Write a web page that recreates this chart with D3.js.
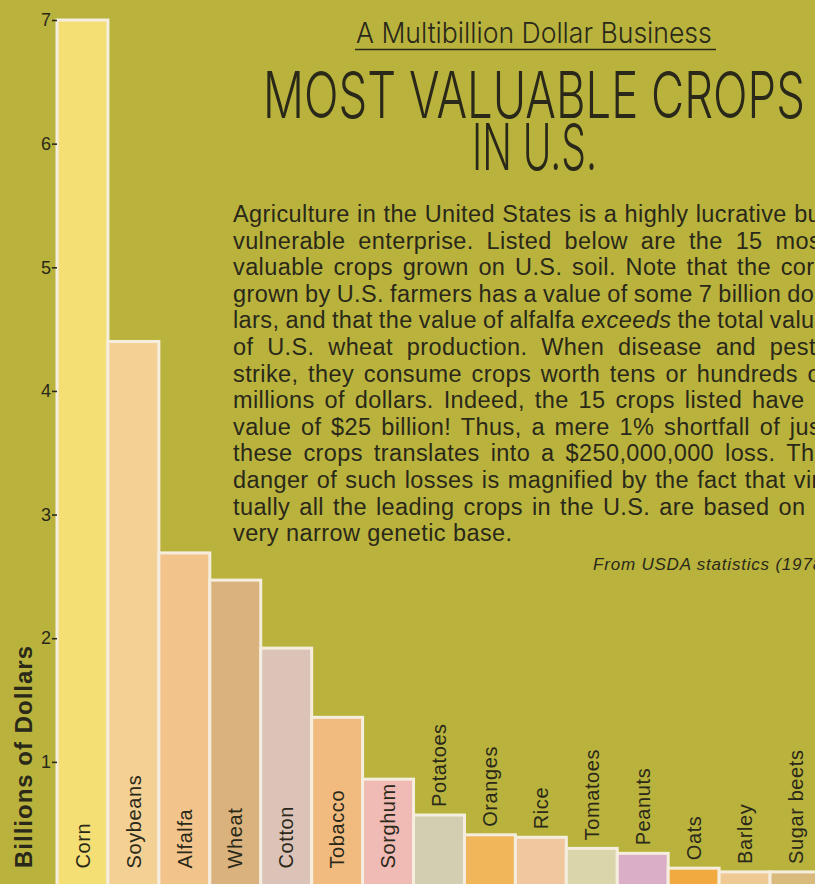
<!DOCTYPE html>
<html>
<head>
<meta charset="utf-8">
<script src="https://cdn.jsdelivr.net/npm/d3@7"></script>
<style>
  html, body { margin: 0; padding: 0; background: #b9b33d; }
  svg { display: block; }
</style>
</head>
<body>
<svg id="chart"></svg>
<script>
// data (billions of dollars)
const crops = ["Corn", "Soybeans", "Alfalfa", "Wheat", "Cotton", "Tobacco", "Sorghum",
  "Potatoes", "Oranges", "Rice", "Tomatoes", "Peanuts", "Oats", "Barley", "Sugar beets"];
const values = [7.0, 4.4, 2.69, 2.47, 1.92, 1.36, 0.86, 0.57, 0.41, 0.39, 0.3, 0.26, 0.14, 0.11, 0.11];
const yTicks = [1, 2, 3, 4, 5, 6, 7];
const palette = ["#f4df74", "#f3d093", "#f2c48b", "#d9b27d", "#dcc3b8", "#f1bb80", "#f1bbb5",
  "#d3cdb2", "#f1b55a", "#f1c7a0", "#dad5aa", "#dbaec8", "#f0aa40", "#efc994", "#d9b97c"];

const subtitle = "A Multibillion Dollar Business";
const titleLines = ["MOST VALUABLE CROPS", "IN U.S."];
const bodyLines = [
  "Agriculture in the United States is a highly lucrative but",
  "vulnerable enterprise. Listed below are the 15 most",
  "valuable crops grown on U.S. soil. Note that the corn",
  "grown by U.S. farmers has a value of some 7 billion dol-",
  "lars, and that the value of alfalfa _exceeds_ the total value",
  "of U.S. wheat production. When disease and pests",
  "strike, they consume crops worth tens or hundreds of",
  "millions of dollars. Indeed, the 15 crops listed have a",
  "value of $25 billion! Thus, a mere 1% shortfall of just",
  "these crops translates into a $250,000,000 loss. The",
  "danger of such losses is magnified by the fact that vir-",
  "tually all the leading crops in the U.S. are based on a",
  "very narrow genetic base."
];
const source = "From USDA statistics (1978)";
const yLabel = "Billions of Dollars";

const width = 815, height = 884;
const ink = "#2a2819";
const sans = "'Liberation Sans', Arial, sans-serif";
const headFont = "Inter, 'Noto Sans', 'DejaVu Sans', sans-serif";

const svg = d3.select("#chart").attr("width", width).attr("height", height);

svg.append("rect").attr("width", width).attr("height", height).attr("fill", "#b9b33d");

// Scales
const x = d3.scaleBand().domain(crops).range([57, 821]).padding(0);
const y = d3.scaleLinear().domain([0, 7]).range([885.5, 20]);
const color = d3.scaleOrdinal(crops, palette);

// squeeze a headline text horizontally into a given width
function headline(str, x0, y0, size, targetW) {
  const t = svg.append("text")
    .attr("font-family", headFont).attr("font-weight", 300)
    .attr("font-size", size).attr("fill", ink)
    .text(str);
  const k = targetW / t.node().getComputedTextLength();
  t.attr("transform", "translate(" + x0 + "," + y0 + ") scale(" + k + ",1)");
  return t;
}

// Header
headline(subtitle, 356, 43, 29, 356);
svg.append("line")
  .attr("x1", 355).attr("x2", 716).attr("y1", 49.5).attr("y2", 49.5)
  .attr("stroke", ink).attr("stroke-width", 1.6);
headline(titleLines[0], 263, 118, 64, 542);
headline(titleLines[1], 472, 170, 64, 125);

// Justified body text
const bodyLeft = 233, bodyRight = 828, lineGap = 26.6, bodySize = 23.5;
bodyLines.forEach((line, i) => {
  const t = svg.append("text")
    .attr("y", 222 + i * lineGap)
    .attr("font-family", sans)
    .attr("font-size", bodySize)
    .attr("letter-spacing", 0.4)
    .attr("fill", ink);
  const words = line.split(" ");
  const spans = words.map((w) => {
    const italic = w.startsWith("_");
    return t.append("tspan")
      .attr("font-style", italic ? "italic" : null)
      .text(w.replace(/_/g, ""));
  });
  const widths = spans.map((s) => s.node().getComputedTextLength());
  const total = d3.sum(widths);
  const last = i === bodyLines.length - 1;
  const gap = last || words.length < 2
    ? bodySize * 0.3
    : (bodyRight - bodyLeft - total) / (words.length - 1);
  let cx = bodyLeft;
  spans.forEach((s, k) => {
    s.attr("x", cx);
    cx += widths[k] + gap;
  });
});

svg.append("text")
  .attr("x", 593).attr("y", 570)
  .attr("font-family", sans)
  .attr("font-style", "italic")
  .attr("font-size", 17)
  .attr("letter-spacing", 0.8)
  .attr("fill", ink)
  .text(source);

// Bars
svg.selectAll(".bar")
  .data(crops)
  .enter()
  .append("rect")
  .attr("class", "bar")
  .attr("x", (d) => x(d))
  .attr("width", x.bandwidth())
  .attr("y", (d, i) => y(values[i]))
  .attr("height", (d, i) => y(0) - y(values[i]))
  .attr("fill", (d) => color(d))
  .attr("stroke", "#f5eedf")
  .attr("stroke-width", 3);

// Bar labels: inside at the bottom if they fit, otherwise sitting on top
const labels = svg.selectAll(".bar-label")
  .data(crops)
  .enter()
  .append("text")
  .attr("class", "bar-label")
  .attr("font-family", sans)
  .attr("font-size", 20)
  .attr("letter-spacing", 0.6)
  .attr("fill", ink)
  .attr("dy", "0.36em")
  .text((d) => d);

labels.each(function (d, i) {
  const len = this.getComputedTextLength();
  const barH = y(0) - y(values[i]);
  const base = len + 17 <= barH ? y(0) - 17 : y(values[i]) - 8;
  d3.select(this)
    .attr("transform", "translate(" + (x(d) + x.bandwidth() / 2) + "," + base + ") rotate(-90)");
});

// Axis
const yAxis = d3.axisLeft(y)
  .tickValues(yTicks)
  .tickSize(5)
  .tickPadding(1)
  .tickFormat(d3.format("d"));
const axisG = svg.append("g")
  .attr("transform", "translate(57,0)")
  .call(yAxis);
axisG.select(".domain").remove();
axisG.selectAll(".tick line").attr("stroke", ink).attr("stroke-width", 1.6);
axisG.selectAll(".tick text")
  .attr("fill", ink)
  .attr("font-family", sans)
  .attr("font-size", 18);

svg.append("text")
  .attr("transform", "translate(32,868) rotate(-90)")
  .attr("font-family", sans)
  .attr("font-weight", "bold")
  .attr("font-size", 24)
  .attr("letter-spacing", 1)
  .attr("fill", ink)
  .text(yLabel);
</script>
</body>
</html>
